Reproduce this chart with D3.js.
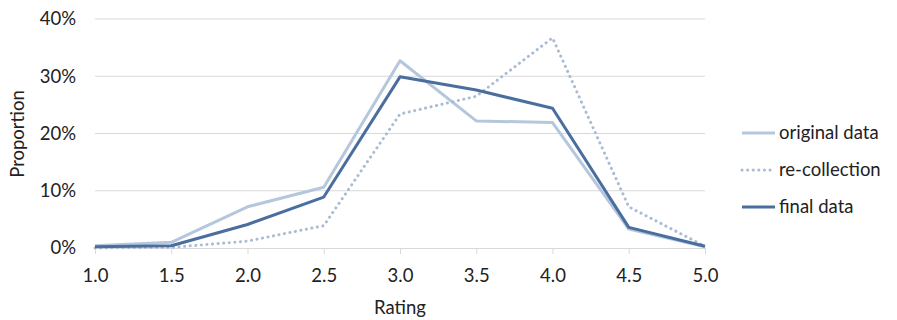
<!DOCTYPE html>
<html><head><meta charset="utf-8">
<script src="https://cdn.jsdelivr.net/npm/d3@7"></script>
<style>body{margin:0;background:#fff}svg{display:block}text{font-family:Lato,"Open Sans",sans-serif}</style>
</head><body><svg id="c" width="897" height="320"></svg>
<script>
const ratings = [1.0,1.5,2.0,2.5,3.0,3.5,4.0,4.5,5.0];
const originalData = [0.4,1.0,7.2,10.6,32.7,22.2,21.9,3.3,0.2];
const reCollection = [0.0,0.1,1.2,3.9,23.4,26.5,36.7,7.2,0.3];
const finalData = [0.2,0.4,4.1,8.9,29.9,27.6,24.4,3.6,0.3];
const yTicks = [0,10,20,30,40];
const xTicks = [1.0,1.5,2.0,2.5,3.0,3.5,4.0,4.5,5.0];
const seriesNames = ["original data","re-collection","final data"];

const FS = 18.5;
const svg = d3.select("#c");
const x = d3.scaleLinear().domain([1,5]).range([95,705]);
const y = d3.scaleLinear().domain([0,40]).range([248,19]);

svg.append("g").selectAll("line").data(yTicks.filter(d=>d>0)).join("line")
  .attr("x1",x(1)).attr("x2",x(5)).attr("y1",d=>y(d)).attr("y2",d=>y(d))
  .attr("stroke","#d9d9d9").attr("stroke-width",1);

svg.append("g").selectAll("text").data(yTicks).join("text")
  .attr("x",76).attr("y",d=>y(d)).attr("dy","0.35em").attr("text-anchor","end")
  .attr("font-size",FS).attr("fill","#222").text(d=>d+"%");

const xa = svg.append("g").attr("transform",`translate(0,${y(0)})`)
  .call(d3.axisBottom(x).tickValues(xTicks).tickFormat(d3.format(".1f")).tickSize(6).tickSizeOuter(0));
xa.select(".domain").attr("stroke","#d9d9d9");
xa.selectAll(".tick line").attr("stroke","#d9d9d9");
xa.selectAll(".tick text").attr("font-size",FS).attr("fill","#222").attr("y",0).attr("dy","1.85em")
  .style("font-family","Lato,sans-serif");

svg.append("text").attr("x",x(3)).attr("y",314).attr("text-anchor","middle")
  .attr("font-size",FS).attr("fill","#222").text("Rating");
svg.append("text").attr("transform","translate(24,134) rotate(-90)").attr("text-anchor","middle")
  .attr("font-size",FS).attr("fill","#222").text("Proportion");

const line = d3.line().x((d,i)=>x(ratings[i])).y(d=>y(d));
const styles = [
  {data:originalData,color:"#b4c7dc",w:3,dash:null},
  {data:reCollection,color:"#a9bcd5",w:3,dash:"0.1,5.5"},
  {data:finalData,color:"#4a6e9e",w:3,dash:null}
];
styles.forEach(s=>{
  svg.append("path").datum(s.data).attr("d",line).attr("fill","none")
    .attr("stroke",s.color).attr("stroke-width",s.w)
    .attr("stroke-dasharray",s.dash).attr("stroke-linecap",s.dash?"round":"butt")
    .attr("stroke-linejoin","round");
});

const lg = svg.append("g");
seriesNames.forEach((n,i)=>{
  const yy = 133 + i*37;
  const s = styles[i];
  lg.append("line").attr("x1",742).attr("x2",775).attr("y1",yy).attr("y2",yy)
    .attr("stroke",s.color).attr("stroke-width",s.w).attr("stroke-dasharray",s.dash)
    .attr("stroke-linecap",s.dash?"round":"butt");
  lg.append("text").attr("x",779).attr("y",yy).attr("dy","0.35em")
    .attr("font-size",FS).attr("fill","#222").text(n);
});
</script></body></html>
